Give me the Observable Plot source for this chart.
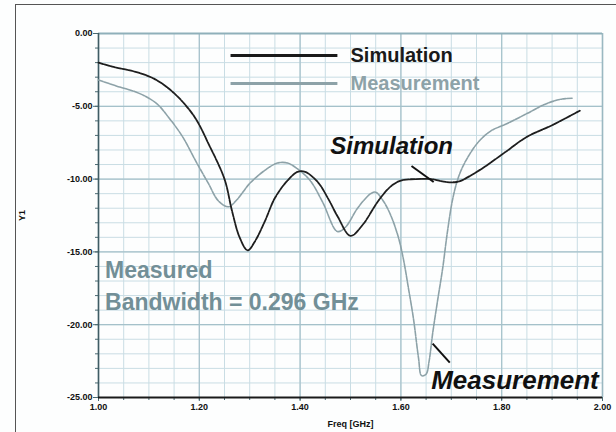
<!DOCTYPE html>
<html><head><meta charset="utf-8">
<script src="https://cdn.jsdelivr.net/npm/d3@7"></script>
<script src="https://cdn.jsdelivr.net/npm/@observablehq/plot@0.6"></script>
<style>
html,body{margin:0;padding:0;background:#fdfefe;}
#wrap{position:relative;width:616px;height:432px;overflow:hidden;}
#border{position:absolute;left:15px;top:4px;width:700px;height:500px;border-left:1px solid #555;border-top:1px solid #555;}
#chart{position:absolute;left:0;top:0;}
</style></head><body>
<div id="wrap"><div id="border"></div><div id="chart"></div></div>
<script>
// Simulation curve (Freq GHz, Y1 dB)
const simFreq = [1.00,1.03,1.07,1.11,1.15,1.19,1.22,1.25,1.265,1.28,1.296,1.31,1.33,1.35,1.375,1.395,1.41,1.435,1.455,1.475,1.50,1.525,1.555,1.58,1.60,1.63,1.66,1.69,1.71,1.72,1.76,1.805,1.85,1.90,1.955];
const simVal  = [-2.0,-2.3,-2.6,-3.1,-4.1,-5.7,-7.7,-10.0,-12.2,-14.0,-14.9,-14.3,-12.9,-11.3,-10.1,-9.5,-9.5,-10.2,-11.3,-12.6,-13.9,-13.1,-11.5,-10.5,-10.1,-10.0,-10.0,-10.2,-10.2,-10.1,-9.3,-8.2,-7.1,-6.3,-5.3];
// Measurement curve
const measFreq = [1.00,1.035,1.08,1.115,1.14,1.167,1.192,1.218,1.238,1.258,1.275,1.30,1.33,1.355,1.375,1.395,1.42,1.445,1.474,1.49,1.514,1.54,1.55,1.565,1.58,1.595,1.605,1.615,1.625,1.635,1.641,1.65,1.656,1.663,1.673,1.683,1.692,1.702,1.712,1.722,1.738,1.755,1.778,1.81,1.85,1.89,1.92,1.94];
const measVal  = [-3.2,-3.6,-4.1,-4.8,-5.8,-7.1,-8.7,-10.3,-11.5,-11.9,-11.4,-10.3,-9.4,-8.9,-8.9,-9.3,-10.1,-11.6,-13.6,-13.3,-12.0,-11.0,-10.9,-11.5,-12.5,-14.0,-15.5,-17.5,-19.6,-22.3,-23.5,-23.4,-22.5,-20.6,-18.3,-16.1,-13.7,-11.5,-10.1,-9.2,-8.2,-7.4,-6.7,-6.2,-5.5,-4.8,-4.5,-4.45];

const xTicks = [1.0,1.2,1.4,1.6,1.8,2.0];
const xTickLabels = ["1.00","1.20","1.40","1.60","1.80","2.00"];
const yTicks = [0,-5,-10,-15,-20,-25];
const yTickLabels = ["0.00","-5.00","-10.00","-15.00","-20.00","-25.00"];
const xMinor = d3.range(0, 21).map(i => 1 + i * 0.05);
const yMinor = d3.range(0, 26).map(i => -i);

// Legend
const legendNames = ["Simulation","Measurement"];
const legendColors = ["#1a1a1a","#8da2a8"];
const legendF1 = [1.262,1.262], legendF2 = [1.474,1.474], legendV = [-1.51,-3.43], legendTextF = [1.50,1.50];

// Annotations
const annotText = ["Simulation","Measurement"];
const annotSize = [24, 26];
const annotF = [1.46, 1.66];
const annotV = [-7.75, -23.85];
const arrowF1 = [1.621, 1.663], arrowV1 = [-9.1, -21.3], arrowF2 = [1.665, 1.697], arrowV2 = [-10.2, -22.6];
const bwText = ["Measured","Bandwidth = 0.296 GHz"];
const bwF = [1.013, 1.013];
const bwV = [-16.3, -18.5];

const sim = simFreq.map((f,i)=>({f, v: simVal[i]}));
const meas = measFreq.map((f,i)=>({f, v: measVal[i]}));
const legend = legendNames.map((n,i)=>({n, c: legendColors[i], f1: legendF1[i], f2: legendF2[i], v: legendV[i], tf: legendTextF[i]}));
const annot = annotText.map((t,i)=>({t, s: annotSize[i], f: annotF[i], v: annotV[i], f1: arrowF1[i], v1: arrowV1[i], f2: arrowF2[i], v2: arrowV2[i]}));
const bw = bwText.map((t,i)=>({t, f: bwF[i], v: bwV[i]}));

const fmtX = d => xTickLabels[xTicks.findIndex(t => Math.abs(t-d) < 1e-9)];
const fmtY = d => yTickLabels[yTicks.findIndex(t => Math.abs(t-d) < 1e-9)];

const plot = Plot.plot({
  width: 616, height: 432,
  marginLeft: 98, marginRight: 14, marginTop: 33, marginBottom: 35,
  style: {background: "transparent", fontFamily: "'Liberation Sans', Arial, sans-serif", color: "#111"},
  x: {domain: [1, 2]},
  y: {domain: [-25, 0]},
  marks: [
    Plot.ruleX(xMinor, {stroke: "#c9dde4", strokeWidth: 1}),
    Plot.ruleY(yMinor, {stroke: "#c9dde4", strokeWidth: 1}),
    Plot.ruleX(xTicks, {stroke: "#a5c1ca", strokeWidth: 1.2}),
    Plot.ruleY(yTicks, {stroke: "#a5c1ca", strokeWidth: 1.2}),
    Plot.ruleX([2], {stroke: "#9ab8c1", strokeWidth: 1.5}),
    Plot.ruleY([0], {stroke: "#8fb0ba", strokeWidth: 1.8}),
    Plot.axisY(yMinor, {tickSize: 3, tickFormat: () => "", label: null, stroke: "#4a6a72"}),
    Plot.axisX(xMinor, {tickSize: 3, tickFormat: () => "", label: null, stroke: "#4a6a72"}),
    Plot.axisY(yTicks, {tickSize: 5, tickPadding: 1, tickFormat: fmtY, fontSize: 9, fontWeight: "bold",
      label: "Y1", labelAnchor: "center", labelOffset: 80, labelArrow: "none", stroke: "#4a6a72"}),
    Plot.axisX(xTicks, {tickSize: 4, tickPadding: 2, tickFormat: fmtX, fontSize: 9, fontWeight: "bold",
      label: "Freq [GHz]", labelAnchor: "center", labelOffset: 29, labelArrow: "none", stroke: "#4a6a72"}),
    Plot.ruleX([1], {stroke: "#3f5c64", strokeWidth: 1.6}),
    Plot.ruleY([-25], {stroke: "#1a1a1a", strokeWidth: 2.2}),
    Plot.line(meas, {x: "f", y: "v", stroke: "#8da2a8", strokeWidth: 1.6, strokeDasharray: "5,1.2", curve: "catmull-rom"}),
    Plot.line(sim, {x: "f", y: "v", stroke: "#1e1e1e", strokeWidth: 1.8, strokeDasharray: "5,1.2", curve: "catmull-rom"}),
    Plot.link(legend, {x1: "f1", x2: "f2", y1: "v", y2: "v", stroke: "c", strokeWidth: 3}),
    Plot.text(legend, {x: "tf", y: "v", text: "n", fill: "c", textAnchor: "start", fontSize: 20, fontWeight: "bold"}),
    Plot.text(bw, {x: "f", y: "v", text: "t", fill: "#728f97", textAnchor: "start", fontSize: 23, fontWeight: "bold"}),
    Plot.link(annot, {x1: "f1", y1: "v1", x2: "f2", y2: "v2", stroke: "#111", strokeWidth: 2}),
    Plot.text(annot.slice(0,1), {x: "f", y: "v", text: "t", fill: "#111", textAnchor: "start", fontSize: 24, fontWeight: "bold", fontStyle: "italic"}),
    Plot.text(annot.slice(1), {x: "f", y: "v", text: "t", fill: "#111", textAnchor: "start", fontSize: 26, fontWeight: "bold", fontStyle: "italic"})
  ]
});
document.getElementById("chart").appendChild(plot);
</script>
</body></html>
